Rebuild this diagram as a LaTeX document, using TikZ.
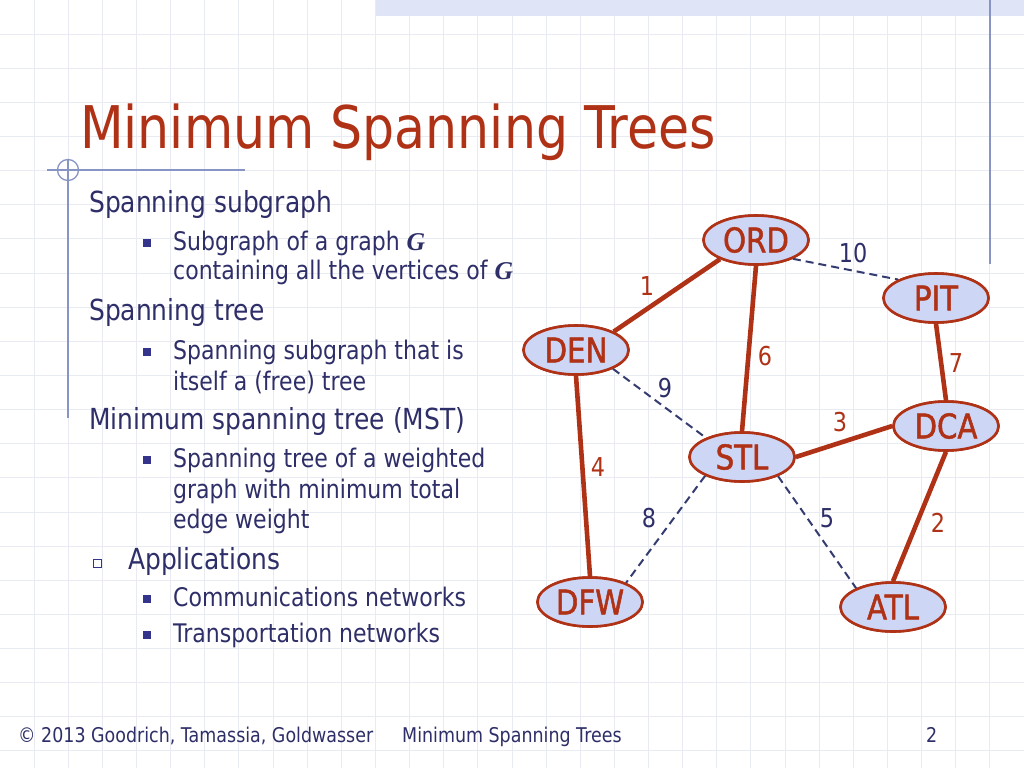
\documentclass[tikz,border=0pt]{standalone}
\usepackage{fontspec}
\setmainfont{DejaVu Sans}
\newfontfamily\tah[FakeStretch=0.86]{DejaVu Sans}
\newfontfamily\tahb[FakeStretch=0.86,FakeBold=1.5]{DejaVu Sans}
\newfontfamily\serifG{Liberation Serif}
\usetikzlibrary{shapes.geometric}
\definecolor{redc}{RGB}{176,50,22}
\definecolor{navyc}{RGB}{46,46,104}
\definecolor{bulc}{RGB}{52,52,140}
\definecolor{nodefill}{RGB}{206,214,246}
\definecolor{dashc}{RGB}{52,60,112}
\definecolor{rulec}{RGB}{135,148,196}
\definecolor{gridc}{RGB}{233,235,243}
\definecolor{bandc}{RGB}{224,228,247}
\newcommand{\fs}[1]{\fontsize{#1}{#1}\selectfont}
\newcommand{\bigG}{{\serifG\bfseries\itshape G}}
\tikzset{
  gridline/.style={draw=gridc, line width=0.9},
  deco/.style={draw=rulec, line width=1.3},
  titletext/.style={anchor=base west, inner sep=0, text=redc, font=\tah\fs{58.8}},
  lvlone/.style={anchor=base west, inner sep=0, text=navyc, font=\tah\fs{29}},
  lvltwo/.style={anchor=base west, inner sep=0, text=navyc, font=\tah\fs{25.6}},
  footer/.style={anchor=base west, inner sep=0, text=navyc, font=\tah\fs{20.3}},
  sqbullet/.style={rectangle, fill=bulc, minimum size=7.5, inner sep=0},
  hollowbullet/.style={rectangle, draw=bulc, fill=white, line width=1, minimum size=8, inner sep=0},
  city/.style={ellipse, draw=redc, line width=2.6, fill=nodefill, minimum width=105, minimum height=49, inner sep=0, text=redc, font=\tahb\fs{34}},
  mst/.style={draw=redc, line width=4.6},
  nonmst/.style={draw=dashc, line width=2, dash pattern=on 8pt off 5pt},
  redlab/.style={text=redc, font=\tah\fs{26}, inner sep=0},
  bluelab/.style={text=navyc, font=\tah\fs{26}, inner sep=0}
}
\begin{document}
\begin{tikzpicture}[x=1pt,y=-1pt]
\useasboundingbox (0,0) rectangle (1024,768);
\fill[white] (0,0) rectangle (1024,768);
% background grid
\foreach \i in {1,...,29} \draw[gridline] ({\i*34.133},0) -- ({\i*34.133},768);
\foreach \j in {1,...,22} \draw[gridline] (0,{\j*34.133}) -- (1024,{\j*34.133});
% top band and rules
\fill[bandc] (376,0) rectangle (1024,16);
\draw[deco] (990,0) -- (990,264);
\draw[deco] (47,170) -- (245,170);
\draw[deco] (68,160) -- (68,418);
\draw[deco] (68,170) circle (10.5);
% title
\node[titletext] (title) at (80,148) {Minimum Spanning Trees};
% bullets
\node[lvlone] (t1) at (89,212) {Spanning subgraph};
\node[sqbullet] (b1) at (147,243) {};
\node[lvltwo] (t1a) at (173,250) {Subgraph of a graph \bigG};
\node[lvltwo] (t1b) at (173,279) {containing all the vertices of \bigG};
\node[lvlone] (t2) at (89,320) {Spanning tree};
\node[sqbullet] (b2) at (147,352) {};
\node[lvltwo] (t2a) at (173,359) {Spanning subgraph that is};
\node[lvltwo] (t2b) at (173,390) {itself a (free) tree};
\node[lvlone] (t3) at (89,429) {Minimum spanning tree (MST)};
\node[sqbullet] (b3) at (147,460) {};
\node[lvltwo] (t3a) at (173,467) {Spanning tree of a weighted};
\node[lvltwo] (t3b) at (173,498) {graph with minimum total};
\node[lvltwo] (t3c) at (173,528) {edge weight};
\node[hollowbullet] (b4) at (97.5,563) {};
\node[lvlone] (t4) at (128,569) {Applications};
\node[sqbullet] (b5) at (147,599) {};
\node[lvltwo] (t4a) at (173,606) {Communications networks};
\node[sqbullet] (b6) at (147,635) {};
\node[lvltwo] (t4b) at (173,642) {Transportation networks};
% graph nodes (positions)
\node[city] (ORD) at (756,240) {ORD};
\node[city] (PIT) at (936,298) {PIT};
\node[city] (DEN) at (576,350) {DEN};
\node[city] (STL) at (742,457) {STL};
\node[city] (DCA) at (946,426) {DCA};
\node[city] (DFW) at (590,602) {DFW};
\node[city] (ATL) at (893,607) {ATL};
% edges
\draw[nonmst] (ORD.-27) -- (PIT.154);
\draw[nonmst] (DEN.-27) -- (STL.152);
\draw[nonmst] (STL.-153) -- (DFW.28);
\draw[nonmst] (STL.-28) -- (ATL.153);
\draw[mst] (ORD.208) -- (DEN.26);
\draw[mst] (ORD.south) -- (STL.north);
\draw[mst] (DEN.south) -- (DFW.north);
\draw[mst] (PIT.south) -- (DCA.north);
\draw[mst] (STL.east) -- (DCA.west);
\draw[mst] (DCA.south) -- (ATL.north);
% nodes redrawn on top of edge ends
\node[city] at (ORD) {ORD};
\node[city] at (PIT) {PIT};
\node[city] at (DEN) {DEN};
\node[city] at (STL) {STL};
\node[city] at (DCA) {DCA};
\node[city] at (DFW) {DFW};
\node[city] at (ATL) {ATL};
% edge labels
\node[redlab] (w1) at (647,286) {1};
\node[bluelab] (w10) at (853,253) {10};
\node[redlab] (w6) at (765,356) {6};
\node[redlab] (w7) at (956,363) {7};
\node[bluelab] (w9) at (665,388) {9};
\node[redlab] (w3) at (840,422) {3};
\node[redlab] (w4) at (598,467) {4};
\node[bluelab] (w8) at (649,518) {8};
\node[bluelab] (w5) at (827,518) {5};
\node[redlab] (w2) at (938,523) {2};
% footer
\node[footer] (f1) at (18,742) {© 2013 Goodrich, Tamassia, Goldwasser};
\node[footer] (f2) at (402,742) {Minimum Spanning Trees};
\node[footer] (f3) at (926,742) {2};
\end{tikzpicture}
\end{document}
